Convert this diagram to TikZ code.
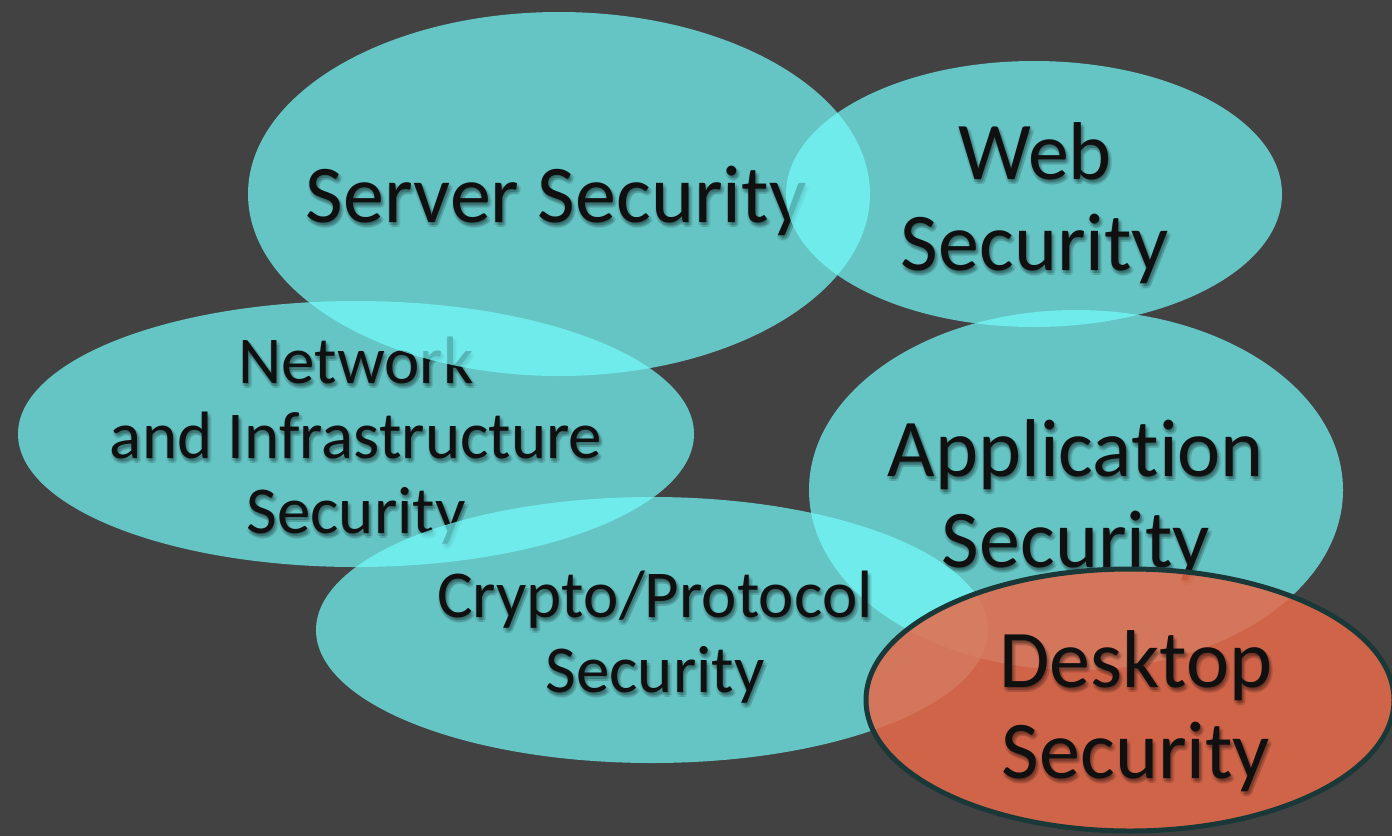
\documentclass[tikz,border=0pt]{standalone}
\usepackage{fontspec}
\setmainfont{Carlito}[Ligatures=NoCommon]
\usetikzlibrary{shapes.geometric,calc}
\definecolor{slate}{RGB}{66,66,66}
\definecolor{aqua}{RGB}{117,252,252}
\definecolor{ember}{RGB}{231,106,75}
\definecolor{rim}{RGB}{26,56,56}
\definecolor{ink}{RGB}{16,16,16}
\tikzset{
  blob/.style={ellipse, inner sep=0pt, fill=aqua, fill opacity=0.7},
  hot/.style={ellipse, inner sep=0pt, fill=ember, fill opacity=0.86, draw=rim, line width=5pt},
  big/.style={font=\fontsize{82}{91}\selectfont, align=center, inner sep=0pt, text=ink, anchor=base},
  small/.style={font=\fontsize{67}{75}\selectfont, align=center, inner sep=0pt, text=ink, anchor=base},
  haze/.style={text=black, text opacity=0.09},
}
% a label with a soft drop shadow: name, baseline point of its last line, style, text
\newcommand\softlabel[4]{%
  \foreach \dx/\dy in {0/1,2/1,4/3,3/5,1/5,-1/3,1.5/3}{%
    \node[#3, haze] at ($(#2)+(\dx,\dy)$) {#4};}%
  \node[#3] (#1) at (#2) {#4};}
\begin{document}
\begin{tikzpicture}[x=1pt,y={(0pt,-1pt)}]
  \useasboundingbox (0,0) rectangle (1392,836);
  \clip (0,0) rectangle (1392,836);
  \fill[slate] (0,0) rectangle (1392,836);

  \node[blob, minimum width=676pt, minimum height=266pt] (network) at (356,434) {};
  \softlabel{network-text}{356,533}{small}{Network\\and Infrastructure\\Security}

  \node[blob, minimum width=622pt, minimum height=364pt] (server) at (559,194) {};
  \softlabel{server-text}{556,222}{big}{Server Security}

  \node[blob, minimum width=496pt, minimum height=266pt] (web) at (1034,194) {};
  \softlabel{web-text}{1035,270}{big}{Web\\Security}

  \node[blob, minimum width=534pt, minimum height=360pt] (application) at (1076,490) {};
  \softlabel{application-text}{1076,567}{big}{Application\\Security}

  \node[blob, minimum width=672pt, minimum height=266pt] (crypto) at (652,630) {};
  \softlabel{crypto-text}{655,692}{small}{Crypto/Protocol\\Security}

  \node[hot, minimum width=528pt, minimum height=262pt] (desktop) at (1130,700) {};
  \softlabel{desktop-text}{1136,778}{big}{Desktop\\Security}
\end{tikzpicture}
\end{document}
